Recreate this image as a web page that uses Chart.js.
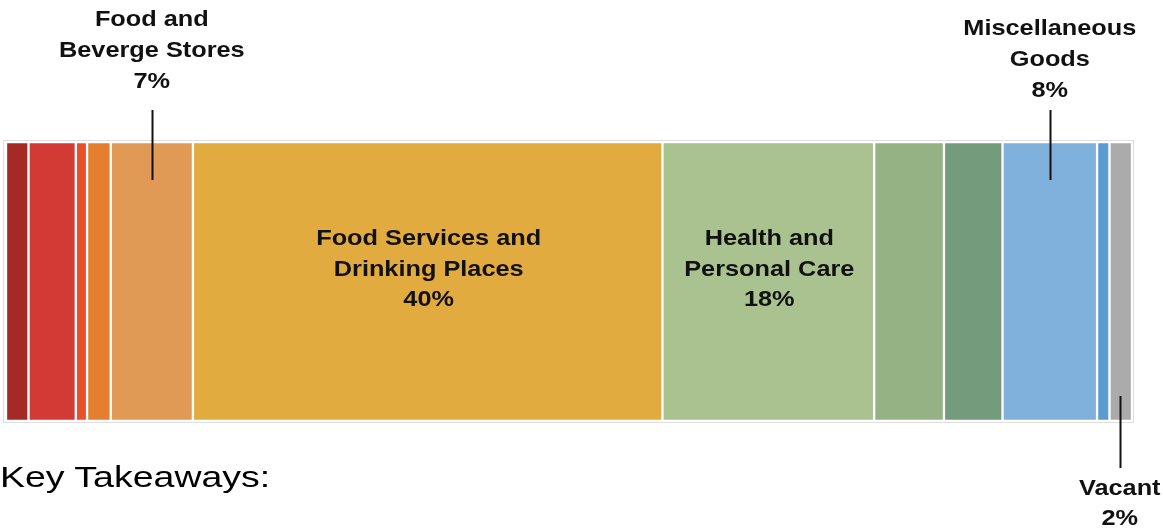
<!DOCTYPE html>
<html>
<head>
<meta charset="utf-8">
<script src="https://cdn.jsdelivr.net/npm/chart.js@4/dist/chart.umd.min.js"></script>
<style>
  html, body { margin: 0; padding: 0; background: #ffffff; }
  #wrap { position: relative; width: 1163px; height: 528px; }
  #takeaways { position: absolute; left: 0px; top: 462px; font-family: "Liberation Sans", Arial, sans-serif; font-size: 30px; line-height: 30px; color: #000; transform: scaleX(1.25); transform-origin: 0 0; white-space: nowrap; }
</style>
</head>
<body>
<div id="wrap">
  <canvas id="c" width="1163" height="528"></canvas>
  <div id="takeaways">Key Takeaways:</div>
</div>
<script>
const categories = ["Tenant Mix"];
const segmentNames = [
  "Segment 1", "Segment 2", "Segment 3", "Segment 4",
  "Food and Beverge Stores", "Food Services and Drinking Places",
  "Health and Personal Care", "Segment 8", "Segment 9",
  "Miscellaneous Goods", "Segment 11", "Vacant"
];
const segmentValues = [2.0, 4.2, 1.0, 2.1, 7.3, 41.7, 18.8, 6.2, 5.2, 8.4, 1.1, 2.0];
const segmentColors = ["#A52A25", "#D43A35", "#E8502A", "#E67E30", "#E09A55", "#E2AB40",
                       "#A9C290", "#95B285", "#759B7D", "#80B0DC", "#5B9BD0", "#ABABAB"];
const labelLines = [
  null, null, null, null,
  ["Food and", "Beverge Stores", "7%"],
  ["Food Services and", "Drinking Places", "40%"],
  ["Health and", "Personal Care", "18%"],
  null, null,
  ["Miscellaneous", "Goods", "8%"],
  null,
  ["Vacant", "2%"]
];
const labelPlacement = [null, null, null, null, "above", "inside", "inside", null, null, "above", null, "below"];

const labelPlugin = {
  id: 'labelPlugin',
  beforeDatasetsDraw(chart) {
    const ctx = chart.ctx, a = chart.chartArea;
    ctx.save();
    ctx.strokeStyle = '#dedede';
    ctx.lineWidth = 1;
    ctx.strokeRect(a.left - 2.5, a.top - 1.5, a.right - a.left + 4, a.bottom - a.top + 3);
    ctx.restore();
  },
  afterDatasetsDraw(chart) {
    const ctx = chart.ctx, a = chart.chartArea;
    const xs = chart.scales.x;
    const sx = 1.15;
    const text = (t, x, y) => {
      ctx.save();
      ctx.translate(x, y);
      ctx.scale(sx, 1);
      ctx.fillText(t, 0, 0);
      ctx.restore();
    };
    ctx.save();
    ctx.fillStyle = '#111';
    ctx.textAlign = 'center';
    ctx.textBaseline = 'middle';
    ctx.font = 'bold 22px "Liberation Sans", Arial, sans-serif';
    let cum = 0;
    segmentValues.forEach((v, i) => {
      const mid = xs.getPixelForValue(cum + v / 2);
      cum += v;
      const lines = labelLines[i];
      if (!lines) return;
      const mode = labelPlacement[i];
      const lh = 30.5;
      if (mode === 'inside') {
        const cy = a.top + 127.5;
        lines.forEach((t, k) => text(t, mid + 1, cy + (k - 1) * lh));
      } else if (mode === 'above') {
        const lastY = lines[0].length > 10 ? a.top - 51.5 : a.top - 60.5;
        lines.forEach((t, k) => text(t, mid, lastY - (lines.length - 1 - k) * 31));
        ctx.strokeStyle = '#111';
        ctx.lineWidth = 2;
        ctx.beginPath();
        ctx.moveTo(Math.round(mid) + 0.5, a.top - 32);
        ctx.lineTo(Math.round(mid) + 0.5, a.top + 38);
        ctx.stroke();
      } else if (mode === 'below') {
        const firstY = a.bottom + 68;
        lines.forEach((t, k) => text(t, mid - 1, firstY + k * 29.5));
        ctx.strokeStyle = '#111';
        ctx.lineWidth = 2;
        ctx.beginPath();
        ctx.moveTo(Math.round(mid) - 0.5, a.bottom - 25);
        ctx.lineTo(Math.round(mid) - 0.5, a.bottom + 47);
        ctx.stroke();
      }
    });
    ctx.restore();
  }
};

new Chart(document.getElementById('c'), {
  type: 'bar',
  data: {
    labels: categories,
    datasets: segmentValues.map((v, i) => ({
      label: segmentNames[i],
      data: [v],
      backgroundColor: segmentColors[i],
      borderColor: '#ffffff',
      borderWidth: 1.5,
      borderSkipped: false,
      barPercentage: 1,
      categoryPercentage: 1
    }))
  },
  options: {
    indexAxis: 'y',
    responsive: false,
    animation: false,
    layout: { padding: { left: 6, right: 31, top: 142, bottom: 107 } },
    scales: {
      x: { stacked: true, min: 0, max: 100, display: false },
      y: { stacked: true, display: false }
    },
    plugins: { legend: { display: false }, tooltip: { enabled: false } }
  },
  plugins: [labelPlugin]
});
</script>
</body>
</html>
